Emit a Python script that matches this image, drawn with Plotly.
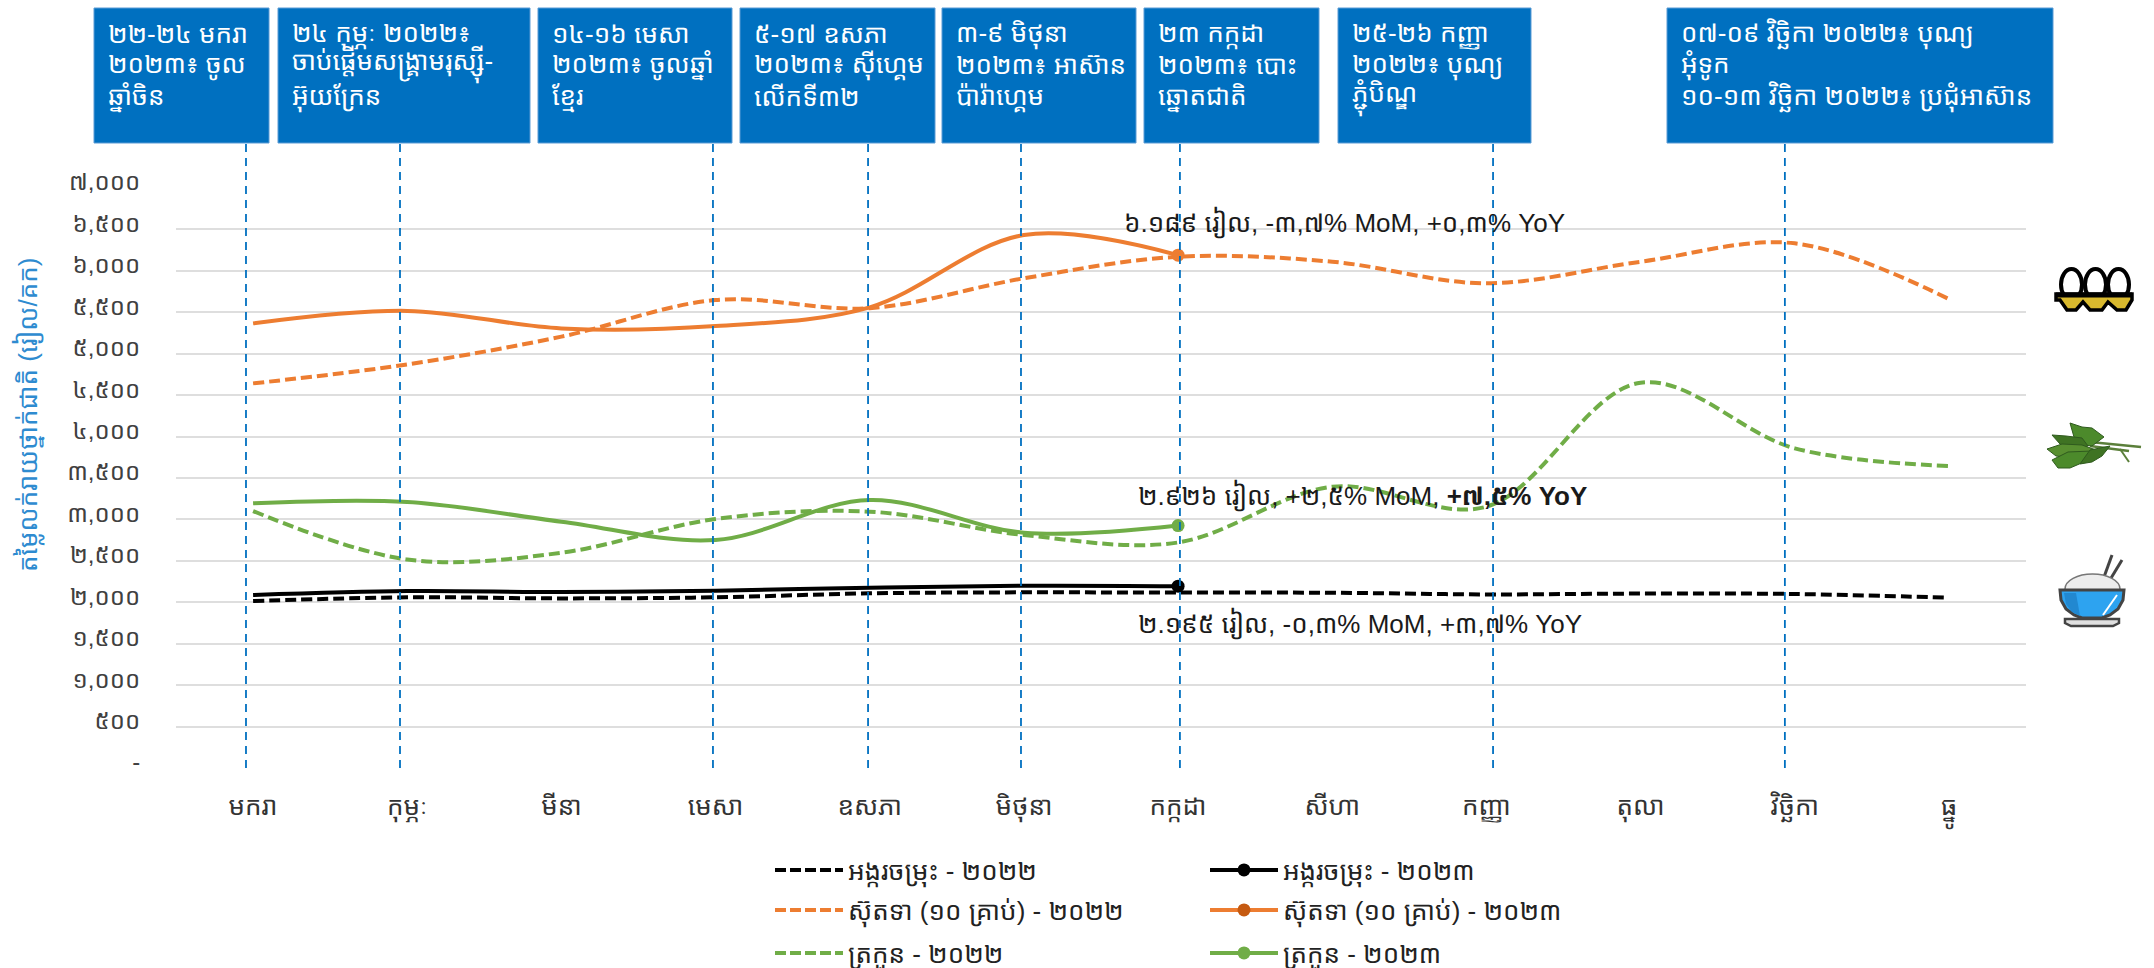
import plotly.graph_objects as go

# ---------- data ----------
months = ["មករា", "កុម្ភៈ", "មីនា", "មេសា", "ឧសភា", "មិថុនា", "កក្កដា", "សីហា", "កញ្ញា", "តុលា", "វិច្ឆិកា", "ធ្នូ"]
rice_2022 = [2015, 2060, 2047, 2060, 2108, 2120, 2117, 2115, 2095, 2105, 2100, 2055]
rice_2023 = [2088, 2136, 2124, 2140, 2176, 2200, 2195]
egg_2022 = [4642, 4871, 5206, 5648, 5550, 5910, 6170, 6110, 5850, 6110, 6332, 5660]
egg_2023 = [5366, 5517, 5305, 5334, 5560, 6432, 6189]
greens_2022 = [3101, 2517, 2598, 3005, 3094, 2812, 2722, 3395, 3154, 4650, 3858, 3645]
greens_2023 = [3194, 3210, 2973, 2752, 3234, 2840, 2926]
y_ticks = [0, 500, 1000, 1500, 2000, 2500, 3000, 3500, 4000, 4500, 5000, 5500, 6000, 6500, 7000]
y_labels = ["-", "៥០០", "១,០០០", "១,៥០០", "២,០០០", "២,៥០០", "៣,០០០", "៣,៥០០", "៤,០០០", "៤,៥០០",
            "៥,០០០", "៥,៥០០", "៦,០០០", "៦,៥០០", "៧,០០០"]
y_title = "តម្លៃលក់រាយថ្នាក់ជាតិ (រៀល/គក)"
names = ["អង្ករចម្រុះ", "ស៊ុតទា (១០ គ្រាប់)", "ត្រកួន"]
event_texts = [
    ["២២-២៤ មករា", "២០២៣៖ ចូល", "ឆ្នាំចិន"],
    ["២៤ កុម្ភៈ ២០២២៖", "ចាប់ផ្តើមសង្គ្រាមរុស្ស៊ី-", "អ៊ុយក្រែន"],
    ["១៤-១៦ មេសា", "២០២៣៖ ចូលឆ្នាំ", "ខ្មែរ"],
    ["៥-១៧ ឧសភា", "២០២៣៖ ស៊ីហ្គេម", "លើកទី៣២"],
    ["៣-៩ មិថុនា", "២០២៣៖ អាស៊ាន", "ប៉ារ៉ាហ្គេម"],
    ["២៣ កក្កដា", "២០២៣៖ បោះ", "ឆ្នោតជាតិ"],
    ["២៥-២៦ កញ្ញា", "២០២២៖ បុណ្យ", "ភ្ជុំបិណ្ឌ"],
    ["០៧-០៩ វិច្ឆិកា ២០២២៖ បុណ្យ", "អុំទូក", "១០-១៣ វិច្ឆិកា ២០២២៖ ប្រជុំអាស៊ាន"],
]
event_pos = [-0.046, 0.953, 2.983, 3.989, 4.981, 6.012, 8.043, 9.936]
note_egg = "៦.១៨៩ រៀល, -៣,៧% MoM, +០,៣% YoY"
note_greens = "២.៩២៦ រៀល, +២,៥% MoM, <b>+៧,៥% YoY</b>"
note_rice = "២.១៩៥ រៀល, -០,៣% MoM, +៣,៧% YoY"

# ---------- styling / layout ----------
W, H = 2154, 968
L, R, T, B = 176, 2026, 188, 768
FONT = "Liberation Sans,'Noto Sans Khmer','Khmer OS',Noto Sans,sans-serif"
BLUE = "#0070C0"
BLACK, ORANGE, GREEN = "#000000", "#ED7D31", "#70AD47"
box_px = [(94, 269), (278, 530), (538, 732), (740, 935), (942, 1136), (1144, 1319), (1338, 1531), (1667, 2053)]
line_centers = [34, 65, 97]

def px(x): return (x - L) / (R - L)
def py(y): return (B - y) / (B - T)

xs = list(range(12))
fig = go.Figure()
series = [
    (rice_2022, rice_2023, BLACK, BLACK, "legend"),
    (egg_2022, egg_2023, ORANGE, "#C55A11", "legend2"),
    (greens_2022, greens_2023, GREEN, GREEN, "legend3"),
]
for (v22, v23, col, mcol, leg), nm in zip(series, names):
    fig.add_trace(go.Scatter(x=xs, y=v22, mode="lines", showlegend=False, hoverinfo="skip",
                             line=dict(color=col, width=4, dash="11px,5px", shape="spline", smoothing=1)))
    fig.add_trace(go.Scatter(x=xs[:len(v23)], y=v23, mode="lines", showlegend=False, hoverinfo="skip",
                             line=dict(color=col, width=4, shape="spline", smoothing=1)))
    fig.add_trace(go.Scatter(x=xs[len(v23)-1:len(v23)], y=v23[-1:], mode="markers", showlegend=False,
                             hoverinfo="skip", marker=dict(color=col, size=13)))
    fig.add_trace(go.Scatter(x=[None], y=[None], mode="lines", name=nm + " - ២០២២", legend=leg,
                             line=dict(color=col, width=4, dash="11px,4px")))
    fig.add_trace(go.Scatter(x=[None], y=[None], mode="lines+markers", name=nm + " - ២០២៣", legend=leg,
                             line=dict(color=col, width=4), marker=dict(color=mcol, size=13)))

shapes = []
for p in event_pos:
    shapes.append(dict(type="line", xref="x", yref="paper", x0=p, x1=p, y0=0, y1=py(143),
                       line=dict(color=BLUE, width=1.8, dash="8px,6px"), layer="above"))
annotations = []
for (a, b), lines in zip(box_px, event_texts):
    shapes.append(dict(type="rect", xref="paper", yref="paper", x0=px(a), x1=px(b), y0=py(143), y1=py(8),
                       fillcolor=BLUE, line=dict(color="#5B9BD5", width=1), layer="above"))
    for t, yc in zip(lines, line_centers):
        annotations.append(dict(xref="paper", yref="paper", x=px(a + 12), y=py(yc), xanchor="left", yanchor="middle",
                                align="left", showarrow=False, text=t, font=dict(family=FONT, size=26, color="white")))
for t, x, y in [(note_egg, 1122, 222), (note_greens, 1136, 495), (note_rice, 1136, 623)]:
    annotations.append(dict(xref="paper", yref="paper", x=px(x), y=py(y), xanchor="left", yanchor="middle",
                            showarrow=False, text=t, font=dict(family=FONT, size=26, color="#1a1a1a")))
annotations.append(dict(xref="paper", yref="paper", x=px(28), y=py(415), xanchor="center", yanchor="middle",
                        textangle=-90, showarrow=False, text=y_title, font=dict(family=FONT, size=26, color="#2E8BD0")))

# ---------- icons (vector approximations) ----------
def P(pts):
    return "M" + " L".join(f"{px(a):.5f},{py(b):.5f}" for a, b in pts) + " Z"

def icon(path_pts, fill, line="rgba(0,0,0,0)", width=0):
    shapes.append(dict(type="path", xref="paper", yref="paper", path=P(path_pts), fillcolor=fill,
                       line=dict(color=line, width=width), layer="above"))

def oval(x0, y0, x1, y1, fill, line="rgba(0,0,0,0)", width=0):
    shapes.append(dict(type="circle", xref="paper", yref="paper", x0=px(x0), x1=px(x1), y0=py(y1), y1=py(y0),
                       fillcolor=fill, line=dict(color=line, width=width), layer="above"))

def seg(x0, y0, x1, y1, col, width):
    shapes.append(dict(type="line", xref="paper", yref="paper", x0=px(x0), x1=px(x1), y0=py(y0), y1=py(y1),
                       line=dict(color=col, width=width), layer="above"))

# egg tray
for ex in (2061, 2085, 2108):
    oval(ex, 269, ex + 21, 300, "white", "black", 4)
icon([(2056, 294), (2132, 294), (2132, 300), (2126, 310), (2117, 310), (2108, 302), (2102, 310),
      (2090, 310), (2083, 302), (2076, 310), (2067, 310), (2060, 300), (2056, 300)], "#D9B92E", "black", 3.5)
seg(2056, 295, 2132, 295, "black", 5)
# greens
seg(2090, 442, 2141, 447, "#5B7F3A", 2.5)
seg(2090, 446, 2129, 451, "#5B7F3A", 2.5)
seg(2120, 449, 2129, 462, "#5B7F3A", 2)
icon([(2070, 423), (2082, 427), (2092, 428), (2104, 437), (2092, 446), (2076, 444)], "#4C8A2B", "#2F5A1E", 1)
icon([(2052, 435), (2066, 436), (2082, 438), (2088, 446), (2070, 450), (2060, 444)], "#3F7323", "#2F5A1E", 1)
icon([(2047, 449), (2062, 444), (2082, 445), (2096, 450), (2074, 458), (2056, 456)], "#588F30", "#2F5A1E", 1)
icon([(2052, 460), (2068, 452), (2092, 451), (2084, 462), (2070, 468), (2058, 468)], "#4C8A2B", "#2F5A1E", 1)
icon([(2080, 464), (2090, 450), (2110, 446), (2102, 456), (2092, 462)], "#3F7323", "#2F5A1E", 1)
# rice bowl
seg(2100, 588, 2112, 555, "#444444", 3)
seg(2105, 588, 2122, 560, "#444444", 3)
oval(2065, 574, 2120, 604, "#EDEDED", "#777777", 1.5)
icon([(2060, 590), (2124, 590), (2123, 600), (2118, 609), (2110, 615), (2102, 618), (2082, 618), (2074, 615),
      (2066, 609), (2061, 600)], "#2DA3F0", "#444444", 3)
icon([(2064, 593), (2076, 593), (2080, 616), (2072, 612), (2066, 604)], "#2288D0")
seg(2117, 595, 2103, 615, "white", 2)
icon([(2065, 619), (2119, 619), (2119, 623), (2113, 626), (2071, 626), (2065, 623)], "#E0E0E0", "#444444", 2.5)

legend_common = dict(orientation="h", xref="paper", yref="paper", xanchor="left", yanchor="middle",
                     itemwidth=68, entrywidth=352, entrywidthmode="pixels", traceorder="normal",
                     bgcolor="rgba(0,0,0,0)", itemclick=False, itemdoubleclick=False,
                     font=dict(family=FONT, size=26, color="#222222"))

fig.update_layout(
    width=W, height=H, autosize=False,
    margin=dict(l=L, r=W - R, t=T, b=H - B, pad=0, autoexpand=False),
    paper_bgcolor="white", plot_bgcolor="white",
    font=dict(family=FONT, size=20, color="#404040"),
    hovermode=False,
    shapes=shapes, annotations=annotations,
    xaxis=dict(range=[-0.5, 11.5], tickmode="array", tickvals=xs, ticktext=months, showgrid=False, zeroline=False,
               showline=False, ticks="outside", ticklen=15, tickcolor="rgba(0,0,0,0)", automargin=False,
               tickfont=dict(family=FONT, size=26, color="#333333")),
    yaxis=dict(range=[0, 7000], tickmode="array", tickvals=y_ticks, ticktext=y_labels, showgrid=True,
               gridcolor="#DEDEDE", gridwidth=1.5, zeroline=False, showline=False, ticks="outside", ticklen=30,
               tickcolor="rgba(0,0,0,0)", ticklabelshift=-6, automargin=False,
               tickfont=dict(family=FONT, size=24, color="#404040")),
    legend=dict(legend_common, x=px(770), y=py(870)),
    legend2=dict(legend_common, x=px(770), y=py(910)),
    legend3=dict(legend_common, x=px(770), y=py(953)),
)
fig.write_html("out.html", config=dict(displayModeBar=False), post_script="document.body.style.margin='0';")
